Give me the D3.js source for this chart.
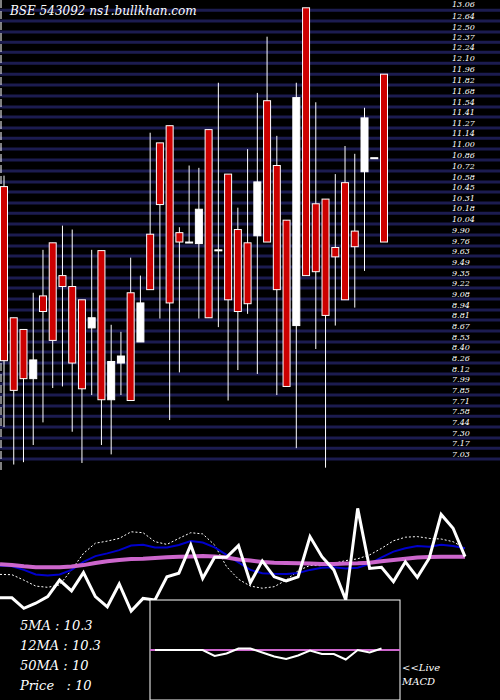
<!DOCTYPE html>
<html>
<head>
<meta charset="utf-8">
<script src="https://cdn.jsdelivr.net/npm/d3@7"></script>
<style>
  body { margin: 0; background: #000; }
  text { font-family: "DejaVu Serif", "Liberation Serif", serif; font-style: italic; fill: #fff; }
</style>
</head>
<body>
<svg id="chart" width="500" height="700"></svg>
<script>
// candles: [high, open, close, low]
var candles = [
  [10.66, 10.52, 8.29, 7.44], [8.84, 8.84, 7.91, 6.96], [8.69, 8.69, 8.06, 6.99], [9.16, 8.06, 8.30, 7.21],
  [9.71, 9.12, 8.92, 7.50], [9.80, 9.80, 8.55, 7.94], [10.02, 9.38, 9.24, 7.96], [9.97, 9.24, 8.26, 7.38],
  [9.07, 9.07, 7.93, 6.98], [9.71, 8.71, 8.84, 7.85], [9.70, 9.70, 7.79, 7.21], [8.75, 7.79, 8.28, 7.09],
  [8.66, 8.26, 8.35, 7.85], [9.61, 9.16, 7.78, 7.78], [9.38, 8.53, 9.03, 8.53], [11.21, 9.91, 9.20, 9.20],
  [11.08, 11.08, 10.29, 8.83], [11.30, 11.30, 9.03, 7.53], [10.00, 9.93, 9.81, 8.14], [10.79, 9.81, 9.81, 9.81],
  [10.76, 9.79, 10.23, 8.83], [11.25, 11.25, 8.84, 8.84], [11.85, 9.71, 9.71, 8.72], [10.68, 10.68, 9.07, 7.78],
  [10.25, 9.97, 8.92, 8.17], [11.00, 9.80, 9.02, 8.89], [11.72, 9.89, 10.58, 8.12], [12.44, 11.62, 9.81, 9.81],
  [11.17, 10.79, 9.20, 7.85], [10.09, 10.09, 7.96, 7.96], [11.85, 8.74, 11.66, 7.17], [12.81, 12.81, 9.38, 9.38],
  [11.60, 10.30, 9.43, 8.44], [10.36, 10.36, 8.87, 6.92], [10.68, 9.74, 9.62, 8.74], [11.04, 10.57, 9.07, 9.07],
  [10.94, 9.95, 9.75, 8.97], [11.53, 10.71, 11.40, 9.44], [10.89, 10.89, 10.89, 10.89], [11.96, 11.96, 9.81, 9.81]
];
var gridPrices = [12.78, 12.64, 12.50, 12.37, 12.24, 12.10, 11.96, 11.82, 11.68, 11.54, 11.41, 11.27, 11.14, 11.00,
  10.86, 10.72, 10.58, 10.45, 10.31, 10.18, 10.04, 9.90, 9.76, 9.63, 9.49, 9.35, 9.22, 9.08, 8.94, 8.81, 8.67,
  8.53, 8.40, 8.26, 8.12, 7.99, 7.85, 7.71, 7.58, 7.44, 7.30, 7.17, 7.03];
var topLabel = "13.06";
var priceLine = [8.74, 8.74, 8.39, 8.56, 8.78, 9.33, 8.97, 9.58, 8.78, 8.44, 9.20, 8.30, 8.72, 8.67, 9.44, 9.56,
  10.50, 9.39, 10.09, 10.09, 10.48, 9.24, 9.97, 9.44, 9.30, 9.44, 10.78, 10.11, 9.67, 8.67, 11.72, 9.72, 9.76,
  9.28, 9.94, 9.42, 10.06, 11.52, 11.06, 10.11];
var ma5 = [9.52, 9.51, 9.33, 9.13, 9.09, 9.17, 9.67, 10.22, 10.56, 10.63, 10.72, 10.94, 10.91, 10.61, 10.52, 10.72,
  10.91, 10.87, 10.50, 9.78, 9.36, 9.13, 9.06, 9.11, 9.33, 9.64, 9.82, 9.81, 9.89, 9.98, 10.04, 10.17, 10.39,
  10.64, 10.76, 10.78, 10.72, 10.70, 10.61, 10.39];
var ma12 = [9.81, 9.79, 9.67, 9.52, 9.48, 9.52, 9.67, 9.94, 10.13, 10.22, 10.33, 10.48, 10.51, 10.42, 10.42, 10.50,
  10.63, 10.58, 10.42, 10.17, 9.92, 9.67, 9.56, 9.54, 9.53, 9.57, 9.67, 9.74, 9.76, 9.72, 9.74, 9.87, 10.09,
  10.28, 10.39, 10.47, 10.44, 10.51, 10.47, 10.39];
var ma50 = [9.86, 9.83, 9.79, 9.76, 9.76, 9.76, 9.78, 9.83, 9.90, 9.96, 10.00, 10.03, 10.04, 10.07, 10.09, 10.11,
  10.12, 10.13, 10.12, 10.08, 10.02, 9.98, 9.93, 9.91, 9.90, 9.89, 9.88, 9.87, 9.87, 9.88, 9.89, 9.91, 9.96,
  10.00, 10.04, 10.08, 10.10, 10.11, 10.11, 10.11];
var macd = [0, 0, 0, 0, 0, -0.12, -0.07, 0.03, 0.03, -0.05, -0.13, -0.18, -0.11, -0.01, -0.08, -0.08, -0.19, 0, -0.05, 0.03];
var macdStart = 13;
var legend = ["5MA : 10.3", "12MA : 10.3", "50MA : 10", "Price   : 10"];

var svg = d3.select("#chart");
svg.append("rect").attr("width", 500).attr("height", 700).attr("fill", "#000");

var x = d3.scaleLinear().domain([0, 39]).range([4, 384]);
var y = d3.scaleLinear().domain([6.89, 12.91]).range([470, 0]);

// grid lines + price labels
svg.selectAll(".grid").data(gridPrices).enter().append("line")
  .attr("x1", 0).attr("x2", 500)
  .attr("y1", d => y(d)).attr("y2", d => y(d))
  .attr("stroke", "#1c1c50").attr("stroke-width", 3);
svg.selectAll(".plabel").data(gridPrices.slice(1)).enter().append("text")
  .attr("x", 452).attr("y", d => y(d) - 2)
  .attr("font-size", 8).attr("fill", "#ddd").text(d => d.toFixed(2));
svg.append("text").attr("x", 452).attr("y", 7).attr("font-size", 8).text(topLabel);

// left edge ticks
svg.append("line").attr("x1", 1).attr("x2", 1).attr("y1", 0).attr("y2", 470)
  .attr("stroke", "#fff").attr("stroke-dasharray", "8,3");

// candles
var g = svg.append("g");
g.selectAll(".wick").data(candles).enter().append("line")
  .attr("x1", (d, i) => x(i)).attr("x2", (d, i) => x(i))
  .attr("y1", d => y(d[0])).attr("y2", d => y(d[3]))
  .attr("stroke", "#fff").attr("stroke-width", 1);
g.selectAll(".body").data(candles).enter().append("rect")
  .attr("x", (d, i) => x(i) - 3.5).attr("width", 7)
  .attr("y", d => y(Math.max(d[1], d[2])))
  .attr("height", d => Math.max(1, Math.abs(y(d[1]) - y(d[2]))))
  .attr("fill", d => d[2] < d[1] ? "#cc0000" : "#fff")
  .attr("stroke", "#fff").attr("stroke-width", 1);

svg.append("text").attr("x", 10).attr("y", 15).attr("font-size", 12)
  .text("BSE 543092  ns1.bullkhan.com");

// lower panel
var lx = d3.scaleLinear().domain([0, 39]).range([0, 465]);
var ly = d3.scaleLinear().domain([8, 12]).range([620, 500]);
var line = d3.line().x((d, i) => lx(i)).y(d => ly(d));

svg.append("path").datum(ma5).attr("d", line).attr("fill", "none")
  .attr("stroke", "#fff").attr("stroke-width", 1).attr("stroke-dasharray", "2,2");
svg.append("path").datum(ma12).attr("d", line).attr("fill", "none")
  .attr("stroke", "#0000cc").attr("stroke-width", 2);
svg.append("path").datum(ma50).attr("d", line).attr("fill", "none")
  .attr("stroke", "#cc66cc").attr("stroke-width", 4);
svg.append("path").datum(priceLine).attr("d", line).attr("fill", "none")
  .attr("stroke", "#fff").attr("stroke-width", 3);

// MACD box
svg.append("rect").attr("x", 150).attr("y", 600).attr("width", 250).attr("height", 100)
  .attr("fill", "#000").attr("stroke", "#fff").attr("stroke-width", 1);
var my = d3.scaleLinear().domain([-1, 1]).range([700, 600]);
svg.append("line").attr("x1", 150).attr("x2", 400).attr("y1", my(0)).attr("y2", my(0))
  .attr("stroke", "#cc66cc").attr("stroke-width", 2);
svg.append("path").datum(macd)
  .attr("d", d3.line().x((d, i) => lx(i + macdStart)).y(d => my(d)))
  .attr("fill", "none").attr("stroke", "#fff").attr("stroke-width", 2);

svg.selectAll(".legend").data(legend).enter().append("text")
  .attr("x", 20).attr("y", (d, i) => 630 + i * 20)
  .attr("font-size", 13).style("white-space", "pre").text(d => d);
svg.append("text").attr("x", 402).attr("y", 671).attr("font-size", 10).text("<<Live");
svg.append("text").attr("x", 402).attr("y", 685).attr("font-size", 10).text("MACD");
</script>
</body>
</html>
